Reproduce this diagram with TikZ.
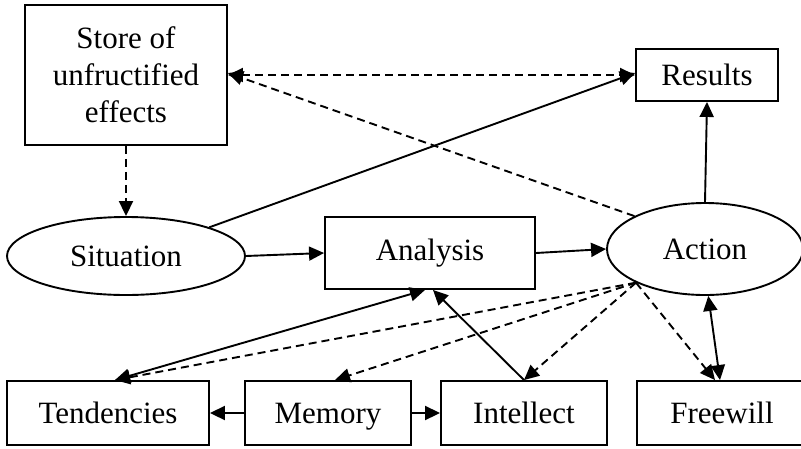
\documentclass[tikz,border=0pt]{standalone}
\usepackage{fontspec}
\setmainfont{Liberation Serif}
\usetikzlibrary{shapes.geometric,arrows.meta}

\begin{document}
\begin{tikzpicture}[x=1pt,y=-1pt,
  font=\fontsize{31}{37}\selectfont,
  every node/.style={draw,line width=1.9pt,inner sep=0pt},
  box/.style={rectangle,align=center},
  cell/.style={box,minimum height=64,text depth=0pt},
  oval/.style={ellipse},
  tip/.tip={Triangle[length=15pt,width=14pt]},
  link/.style={line width=1.9pt,-tip},
  hint/.style={link,dash pattern=on 8pt off 5pt}]

\useasboundingbox (0,0) rectangle (801,448);

\node[box,minimum width=202,minimum height=140] (store) at (126,75) {Store of\\unfructified\\effects};
\node[box,minimum width=142,minimum height=52] (results) at (707,75) {Results};
\node[oval,minimum width=238,minimum height=78] (situation) at (126,256) {Situation};
\node[box,minimum width=210,minimum height=72] (analysis) at (430,253) {Analysis};
\node[oval,minimum width=196,minimum height=92] (action) at (705,249) {Action};

\node[cell,minimum width=202] (tendencies) at (108,413) {Tendencies};
\node[cell,minimum width=166] (memory) at (328,413) {Memory};
\node[cell,minimum width=166] (intellect) at (524,413) {Intellect};
\node[cell,minimum width=170] (freewill) at (722,413) {Freewill};

\draw[hint] (store) -- (situation);
\draw[hint,tip-tip] (store.east) -- (results.west);
\draw[hint] (action.155) -- ([yshift=2]store.east);
\draw[link] (situation.19) -- ([yshift=2]results.west);
\draw[link] (situation.east) -- (analysis.west);
\draw[link] (analysis.east) -- (action.west);
\draw[link] (action.north) -- (results.south);
\draw[link,tip-tip] (action.-86) -- ([xshift=-2]freewill.north);

\draw[hint] (action.206) -- ([xshift=7]tendencies.north);
\draw[hint] (action.206) -- ([xshift=7]memory.north);
\draw[hint] (action.206) -- (intellect.north);
\draw[hint] (action.206) -- ([xshift=-7]freewill.north);

\draw[link,tip-tip] ([xshift=7]tendencies.north) -- ([xshift=-5]analysis.south);
\draw[link] (intellect.north) -- ([xshift=3]analysis.south);
\draw[link] (memory.west) -- (tendencies.east);
\draw[link] (memory.east) -- (intellect.west);
\end{tikzpicture}
\end{document}
